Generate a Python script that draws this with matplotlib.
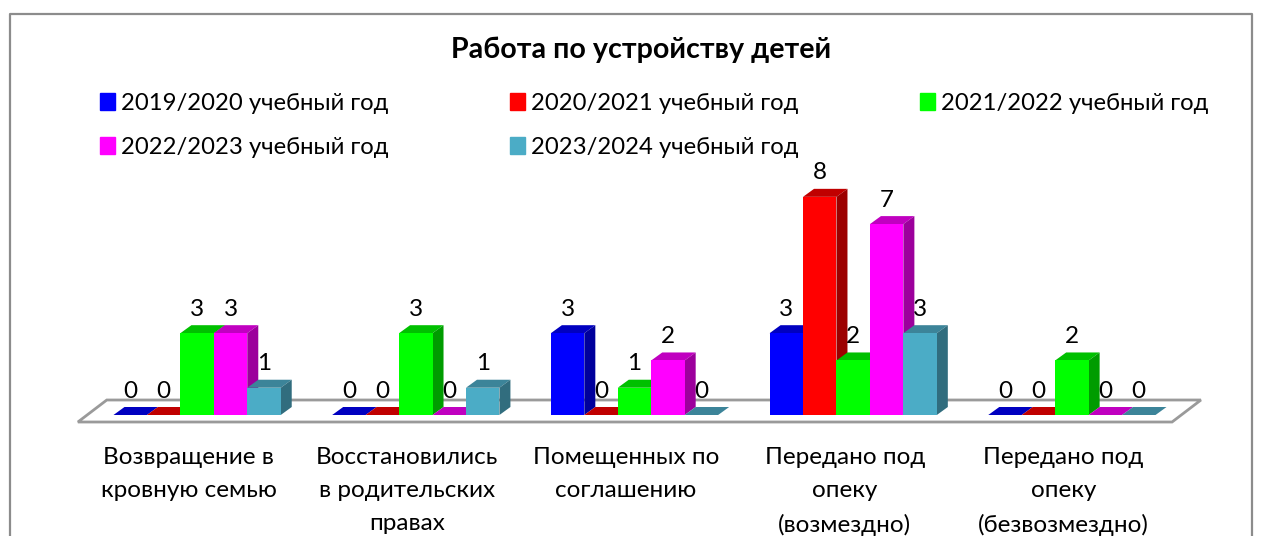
import numpy as np
import matplotlib
matplotlib.use("Agg")
from matplotlib import pyplot as plt
from matplotlib.patches import Polygon, Patch
from matplotlib.lines import Line2D

plt.rcParams['font.family'] = ['Lato', 'Open Sans', 'DejaVu Sans']

categories = [
    "Возвращение в\nкровную семью",
    "Восстановились\nв родительских\nправах",
    "Помещенных по\nсоглашению",
    "Передано под\nопеку\n(возмездно)",
    "Передано под\nопеку\n(безвозмездно)",
]
years = [
    "2019/2020 учебный год",
    "2020/2021 учебный год",
    "2021/2022 учебный год",
    "2022/2023 учебный год",
    "2023/2024 учебный год",
]
y2019 = [0, 0, 3, 3, 0]
y2020 = [0, 0, 0, 8, 0]
y2021 = [3, 3, 1, 2, 2]
y2022 = [3, 0, 2, 7, 0]
y2023 = [1, 1, 0, 3, 0]
series = [y2019, y2020, y2021, y2022, y2023]

front = ['#0000ff', '#ff0000', '#00ff00', '#ff00ff', '#4bacc6']
top = ['#0000c0', '#c00000', '#00c000', '#c000c0', '#3c8499']
side = ['#00009c', '#9c0000', '#009c00', '#9c009c', '#316d7e']

W, H = 1261, 536
# pixels per category and per value
px_x = 218.7
px_y = 27.27
x0_px = 197.1
y0_px = 415

fig = plt.figure(figsize=(W / 100, H / 100), dpi=100)
ax = fig.add_axes([0, 0, 1, 1])
ax.set_xlim(-x0_px / px_x, (W - x0_px) / px_x)
ax.set_ylim(-(H - y0_px) / px_y, y0_px / px_y)
ax.axis('off')

bar_w = 33.45 / px_x
dx = 11 / px_x
dy = 8 / px_y

# floor
ax.add_patch(Polygon([(-0.545, -7 / px_y), (4.458, -7 / px_y),
                      (4.59, 15 / px_y), (-0.413, 15 / px_y)],
                     closed=True, fc='white', ec='#9a9a9a', lw=2, zorder=1))

xpos = np.arange(len(categories))
z = 2
for g in xpos:
    for s, vals in enumerate(series):
        x = g + (s - 2) * bar_w
        v = vals[g]
        l, r = x - bar_w / 2, x + bar_w / 2
        ax.add_patch(Polygon([(l, v), (r, v), (r + dx, v + dy), (l + dx, v + dy)],
                             fc=top[s], ec='none', zorder=z))
        if v > 0:
            ax.add_patch(Polygon([(r, 0), (r + dx, dy), (r + dx, v + dy), (r, v)],
                                 fc=side[s], ec='none', zorder=z))
            ax.bar(x, v, bar_w, color=front[s], zorder=z + 0.5)
        z += 1
        ax.text(x, v + 24 / px_y, str(v), ha='center', va='center',
                fontsize=17.5, color='black', zorder=200)

for g, lab in zip(xpos, categories):
    ax.text(g - 8.5 / px_x, -32 / px_y, lab, ha='center', va='top', fontsize=17.5,
            linespacing=1.72, color='black', zorder=200)

ax.text(641 / W, 1 - 50 / H, "Работа по устройству детей", transform=ax.transAxes,
        ha='center', va='center', fontsize=20.6, fontweight='bold', zorder=200)

handles = [Patch(color=c, label=y) for c, y in zip(front, years)]
order = [0, 3, 1, 4, 2]
ax.legend([handles[i] for i in order], [years[i] for i in order], ncol=3,
          loc='upper left', bbox_to_anchor=(100 / W, 1 - 93 / H), frameon=False,
          fontsize=17.2, handlelength=0.62, handleheight=0.7, handletextpad=0.25,
          columnspacing=5.09, labelspacing=0.95, borderpad=0, borderaxespad=0)

# chart frame, bottom is cut off in the picture
fig.add_artist(Line2D([9.5 / W, 9.5 / W, 1251.5 / W, 1251.5 / W],
                      [0, 1 - 14 / H, 1 - 14 / H, 0],
                      color='#8c8c8c', lw=1.6))

fig.savefig('out.png', dpi=100)
